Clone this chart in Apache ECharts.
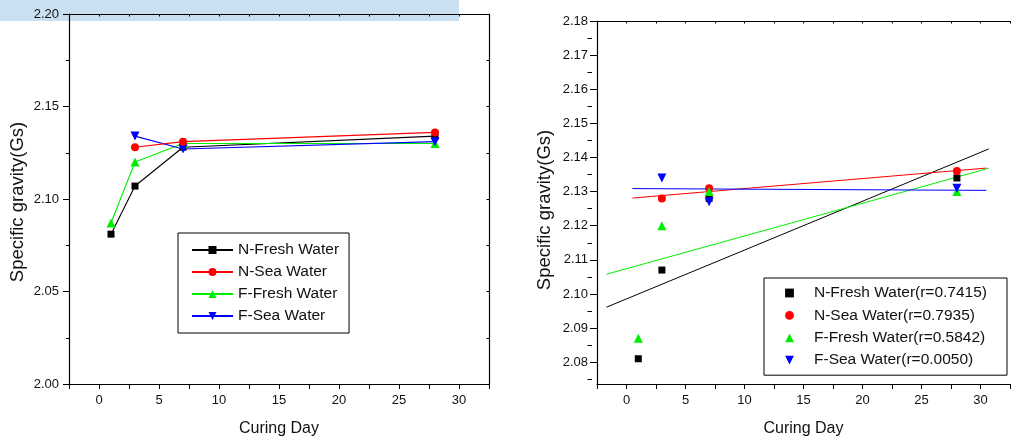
<!DOCTYPE html>
<html>
<head>
<meta charset="utf-8">
<title>Specific gravity vs curing day</title>
<script src="https://cdn.jsdelivr.net/npm/echarts@6/dist/echarts.min.js"></script>
<style>
  html, body { margin: 0; padding: 0; background: #fff; }
  #chart { width: 1013px; height: 442px; }
</style>
</head>
<body>
<div id="chart"></div>
<script>
// Curing days and measured specific gravity (Gs) for each mix
const curingDays = [1, 3, 7, 28];
const nFreshWater = [2.081, 2.107, 2.128, 2.134];
const nSeaWater = [null, 2.128, 2.131, 2.136];
const fFreshWater = [2.087, 2.120, 2.130, 2.130];
const fSeaWater = [null, 2.134, 2.127, 2.131];

const seriesNames = ['N-Fresh Water', 'N-Sea Water', 'F-Fresh Water', 'F-Sea Water'];
const correlationR = ['0.7415', '0.7935', '0.5842', '0.0050'];

// Tick labels
const dayTickLabels = [0, 5, 10, 15, 20, 25, 30];
const leftGsLabels = [2.00, 2.05, 2.10, 2.15, 2.20];
const rightGsLabels = [2.08, 2.09, 2.10, 2.11, 2.12, 2.13, 2.14, 2.15, 2.16, 2.17, 2.18];
const rightGsMinorTicks = [2.075, 2.085, 2.095, 2.105, 2.115, 2.125, 2.135, 2.145, 2.155, 2.165, 2.175];

const seriesValues = [nFreshWater, nSeaWater, fFreshWater, fSeaWater];
const colors = ['#000000', '#ff0000', '#00ee00', '#0000ff'];
const symbols = ['rect', 'circle', 'triangle', 'triangle'];
const symbolRotations = [0, 0, 0, 180];
const symbolSizes = [7, 8, 9, 9];

const FONT = '"Liberation Sans", Arial, sans-serif';

// Right panel frame and value range
const R_LEFT = 597, R_TOP = 21, R_WIDTH = 418, R_HEIGHT = 365;
const R_MIN = 2.0736, R_MAX = 2.18;

function pairs(values) {
  const out = [];
  values.forEach((v, i) => { if (v != null) out.push([curingDays[i], v]); });
  return out;
}

// Least-squares straight line through one mix's points, spanning the
// data range widened by 10 % on both ends.
function linearFit(values) {
  const pts = pairs(values);
  const n = pts.length;
  const mx = pts.reduce((s, p) => s + p[0], 0) / n;
  const my = pts.reduce((s, p) => s + p[1], 0) / n;
  let sxy = 0, sxx = 0;
  pts.forEach(p => { sxy += (p[0] - mx) * (p[1] - my); sxx += (p[0] - mx) ** 2; });
  const slope = sxy / sxx;
  const icpt = my - slope * mx;
  const x0 = pts[0][0], x1 = pts[n - 1][0];
  const pad = (x1 - x0) * 0.1;
  const xa = x0 - pad, xb = x1 + pad;
  return [[xa, icpt + slope * xa], [xb, icpt + slope * xb]];
}

const labelStyle = { color: '#111', fontFamily: FONT, fontSize: 13 };
const nameStyle = { color: '#111', fontFamily: FONT, fontSize: 16 };
const yNameStyle = { color: '#111', fontFamily: FONT, fontSize: 18.5 };
const axisLine = { show: true, onZero: false, lineStyle: { color: '#000', width: 1.2 } };

function dayAxis(gridIndex, position) {
  const bottom = position === 'bottom';
  return {
    type: 'value', gridIndex, position,
    min: -2.5, max: 32.5, interval: 2.5,
    name: bottom ? 'Curing Day' : '',
    nameLocation: 'middle', nameGap: 37, nameTextStyle: nameStyle,
    axisLine,
    axisTick: { show: true, inside: !bottom, length: bottom ? 5 : 2.5, lineStyle: { color: '#000', width: 1 } },
    axisLabel: {
      show: bottom, margin: 10, ...labelStyle,
      formatter: v => (dayTickLabels.includes(Math.round(v * 100) / 100) ? String(Math.round(v)) : '')
    },
    splitLine: { show: false }
  };
}

const xAxes = [dayAxis(0, 'bottom'), dayAxis(1, 'bottom'), dayAxis(0, 'top'), dayAxis(1, 'top')];

const yAxes = [
  // left panel, left side
  {
    type: 'value', gridIndex: 0, position: 'left',
    min: 2.00, max: 2.20, interval: 0.05,
    name: 'Specific gravity(Gs)', nameLocation: 'middle', nameGap: 42,
    nameTextStyle: { ...yNameStyle, padding: [0, 6, 0, 0] },
    axisLine,
    axisTick: { show: true, length: 6, lineStyle: { color: '#000', width: 1 } },
    minorTick: { show: true, splitNumber: 2, length: 3, lineStyle: { color: '#000', width: 1 } },
    axisLabel: { margin: 10, ...labelStyle, formatter: v => v.toFixed(2) },
    splitLine: { show: false }, minorSplitLine: { show: false }
  },
  // left panel, right frame
  {
    type: 'value', gridIndex: 0, position: 'right',
    min: 2.00, max: 2.20, interval: 0.025,
    axisLine,
    axisTick: { show: true, inside: true, length: 2.5, lineStyle: { color: '#000', width: 1 } },
    axisLabel: { show: false }, splitLine: { show: false }
  },
  // right panel, major ticks and labels
  {
    type: 'value', gridIndex: 1, position: 'left',
    min: R_MIN, max: R_MAX,
    name: 'Specific gravity(Gs)', nameLocation: 'middle', nameGap: 43,
    nameTextStyle: { ...yNameStyle, padding: [0, 15, 0, 0] },
    axisLine,
    axisTick: { show: true, length: 7, customValues: rightGsLabels, lineStyle: { color: '#000', width: 1 } },
    axisLabel: { margin: 9, ...labelStyle, customValues: rightGsLabels, formatter: v => v.toFixed(2) },
    splitLine: { show: false }
  },
  // right panel, minor ticks: a right-side axis pulled back onto the left edge,
  // with its ticks turned inward so they point away from the plot
  {
    type: 'value', gridIndex: 1, position: 'right', offset: -R_WIDTH,
    min: R_MIN, max: R_MAX,
    axisLine: { show: false, onZero: false },
    axisTick: { show: true, inside: true, length: 4.5, customValues: rightGsMinorTicks, lineStyle: { color: '#000', width: 1 } },
    axisLabel: { show: false, customValues: rightGsMinorTicks },
    splitLine: { show: false }
  }
];

const series = [];

// Left panel: connected lines with markers
seriesNames.forEach((name, i) => {
  series.push({
    type: 'line', name, xAxisIndex: 0, yAxisIndex: 0,
    data: pairs(seriesValues[i]),
    symbol: symbols[i], symbolRotate: symbolRotations[i], symbolSize: symbolSizes[i],
    itemStyle: { color: colors[i] },
    lineStyle: { color: colors[i], width: 1.1 },
    emphasis: { disabled: true }, z: 3 + (i === 1 ? 1 : 0)
  });
});

// Right panel: measured points and their linear fits
seriesNames.forEach((name, i) => {
  series.push({
    type: 'line', name: name + '(r=' + correlationR[i] + ')', xAxisIndex: 1, yAxisIndex: 2,
    data: pairs(seriesValues[i]),
    symbol: symbols[i], symbolRotate: symbolRotations[i], symbolSize: symbolSizes[i],
    itemStyle: { color: colors[i] },
    lineStyle: { width: 0, opacity: 0 },
    emphasis: { disabled: true }, z: 4
  });
  series.push({
    type: 'line', name: name + ' fit', xAxisIndex: 1, yAxisIndex: 2,
    data: linearFit(seriesValues[i]),
    showSymbol: false, symbol: 'none',
    lineStyle: { color: colors[i], width: 1 },
    emphasis: { disabled: true }, silent: true, z: 2
  });
});

const legendText = { color: '#111', fontFamily: FONT, fontSize: 15.5, lineHeight: 15 };

const option = {
  animation: false,
  backgroundColor: '#ffffff',
  graphic: [
    { type: 'rect', left: 0, top: 0, shape: { width: 459, height: 21 }, style: { fill: '#cadff0' }, z: -10 }
  ],
  grid: [
    { left: 69, top: 14, width: 420, height: 371, containLabel: false },
    { left: R_LEFT, top: R_TOP, width: R_WIDTH, height: R_HEIGHT, containLabel: false }
  ],
  xAxis: xAxes,
  yAxis: yAxes,
  legend: [
    {
      data: seriesNames,
      orient: 'vertical', left: 178, top: 233,
      padding: [9, 10, 9, 13], itemGap: 6,
      itemWidth: 41, itemHeight: 10,
      backgroundColor: '#fff', borderColor: '#000', borderWidth: 1,
      textStyle: legendText, selectedMode: false
    },
    {
      data: seriesNames.map((n, i) => n + '(r=' + correlationR[i] + ')'),
      orient: 'vertical', left: 764, top: 278,
      padding: [7, 20, 7, 6], itemGap: 6.4,
      itemWidth: 39, itemHeight: 11,
      lineStyle: { opacity: 0 },
      backgroundColor: '#fff', borderColor: '#000', borderWidth: 1,
      textStyle: legendText, selectedMode: false
    }
  ],
  series
};

const chart = echarts.init(document.getElementById('chart'), null, { renderer: 'canvas' });
chart.setOption(option);
</script>
</body>
</html>
